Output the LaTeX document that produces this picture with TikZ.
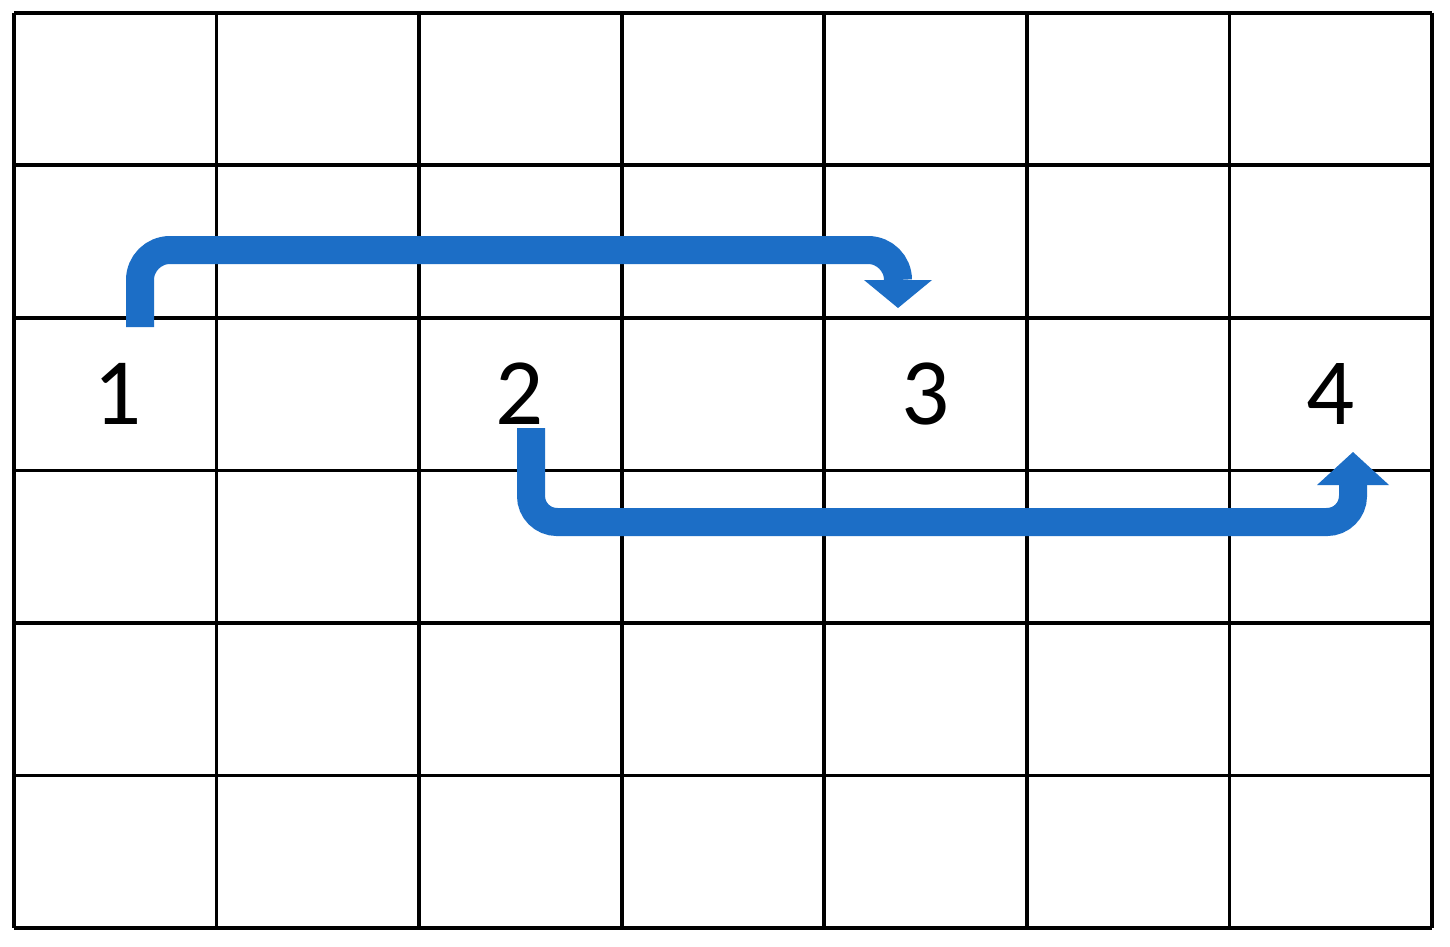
\documentclass[tikz,border=0pt]{standalone}
\usepackage{fontspec}
\setmainfont{Carlito}
\usetikzlibrary{calc}
\definecolor{arrowblue}{RGB}{28,110,198}
\begin{document}
\begin{tikzpicture}[x=1pt,y=-1pt,
  gridline/.style={line width=3.6pt,black},
  numlabel/.style={inner sep=0pt,font=\fontsize{95}{100}\selectfont},
  shaft/.style={line width=28pt,arrowblue,rounded corners=30pt,line cap=butt},
  headtip/.style={fill=arrowblue}]
\useasboundingbox (0,0) rectangle (1450,946);
\fill[white] (0,0) rectangle (1450,946);
% grid
\foreach \i in {0,...,7} {
  \draw[gridline] ({14+\i*202.57},12.7) -- ({14+\i*202.57},928);
}
\foreach \j in {0,...,6} {
  \draw[gridline] (14,{12.7+\j*152.55}) -- (1432,{12.7+\j*152.55});
}
% labels
\node[numlabel] (n1) at (118,394) {1};
\node[numlabel] (n2) at (520,394) {2};
\node[numlabel] (n3) at (926,394) {3};
\node[numlabel] (n4) at (1331,394) {4};
% arrow 1
\coordinate (a1s) at ($(n1.north)+(22,-36)$);
\coordinate (a1b) at (898,280);
\coordinate (a1t) at (898,308);
\draw[shaft] (a1s) -- (a1s |- 0,250) -- (a1b |- 0,250) -- (a1b);
\fill[headtip] (864,280) -- (932,280) -- (a1t) -- cycle;
% arrow 2
\coordinate (a2s) at ($(n2.south)+(11,3)$);
\coordinate (a2b) at (1353,484);
\coordinate (a2t) at (1353,452);
\draw[shaft,rounded corners=26pt] (a2s) -- (a2s |- 0,522) -- (a2b |- 0,522) -- (a2b);
\fill[headtip] (1317,485) -- (1389,485) -- (a2t) -- cycle;
\end{tikzpicture}
\end{document}
